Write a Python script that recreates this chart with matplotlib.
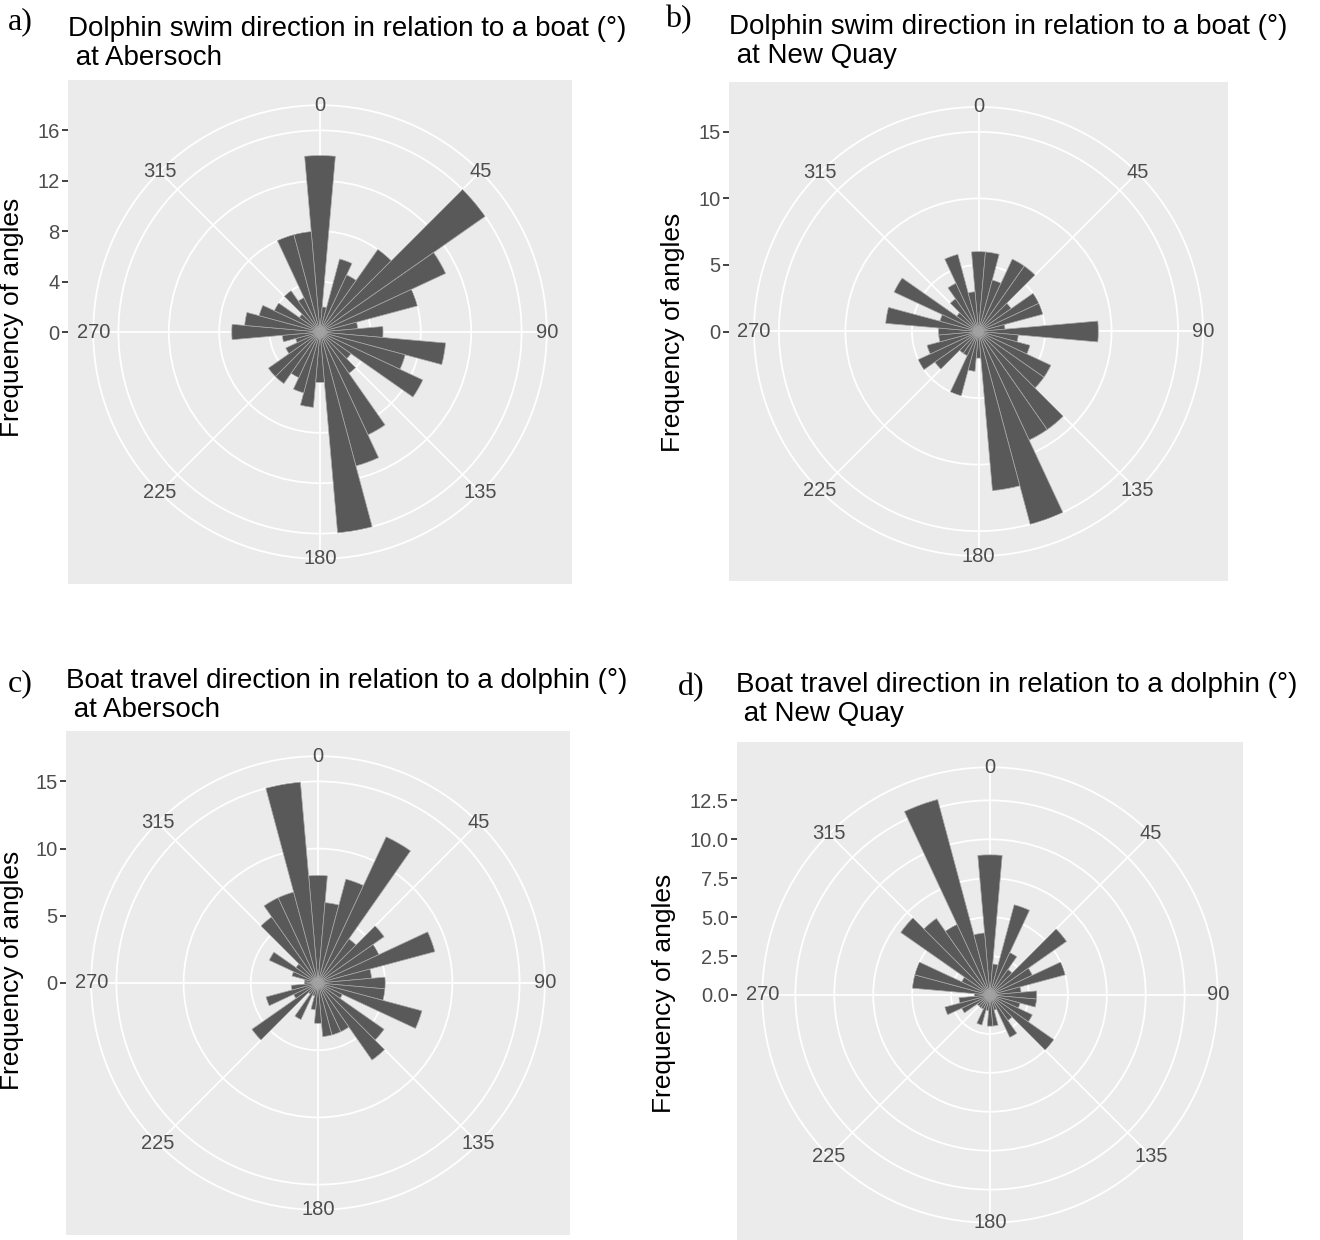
import numpy as np
import matplotlib.pyplot as plt

W, H = 1320, 1240
plt.rcParams['font.family'] = ['Liberation Sans', 'DejaVu Sans']

# bin centres (degrees), 10 degree bins
angles = np.arange(0, 360, 10)
theta_breaks = [0, 45, 90, 135, 180, 225, 270, 315]

dolphin_abersoch = [14, 2, 6, 5, 8, 16, 11, 8, 3, 5, 10, 7, 9, 3, 4, 9, 11, 16,
                    4, 6, 5, 4, 5, 5, 3, 2, 3, 7, 6, 5, 4, 2, 4, 3, 8, 8]
dolphin_newquay = [6, 6, 4, 6, 6, 3, 5, 5, 2, 9, 3, 4, 6, 6, 9, 9, 15, 12,
                   2, 3, 5, 2, 2, 4, 5, 4, 3, 3, 7, 3, 7, 2, 3, 4, 6, 3]
boat_abersoch = [8, 6, 8, 12, 4, 6, 5, 9, 4, 5, 5, 8, 2, 6, 7, 4, 4, 4,
                 3, 2, 1, 3, 1, 6, 2, 4, 2, 1, 1, 2, 4, 2, 6, 7, 7, 15]
boat_newquay = [9, 2, 6, 3, 2, 6, 3, 5, 2, 3, 3, 2, 3, 5, 2, 3, 1, 2,
                2, 1, 2, 1, 1, 1, 2, 3, 2, 1, 5, 5, 2, 7, 6, 5, 13, 4]

breaks_a = [0, 4, 8, 12, 16]
breaks_b = [0, 5, 10, 15]
breaks_c = [0, 5, 10, 15]
breaks_d = [0, 2.5, 5, 7.5, 10, 12.5]

title_dolphin = "Dolphin swim direction in relation to a boat (°)"
title_boat = "Boat travel direction in relation to a dolphin (°)"
sites = [" at Abersoch", " at New Quay", " at Abersoch", " at New Quay"]
tags = ["a)", "b)", "c)", "d)"]

fig = plt.figure(figsize=(W / 100, H / 100), dpi=100)


def fmt(v, step):
    return f"{v:.1f}" if step % 1 else f"{v:.0f}"


def rose(counts, breaks, left, top, size, ylab_x, ylab_y):
    cx, cy = left + size / 2, top + size / 2
    peak = max(counts)
    half = peak * 0.5 / 0.4

    bg = fig.add_axes([left / W, 1 - (top + size) / H, size / W, size / H])
    bg.set_facecolor('#EBEBEB')
    bg.set_xlim(-half, half)
    bg.set_ylim(-half, half)
    bg.set_xticks([])
    step = breaks[1] - breaks[0]
    bg.set_yticks(breaks)
    bg.set_yticklabels([fmt(b, step) for b in breaks])
    bg.tick_params(axis='y', length=4.5, width=1.3, color='#333333',
                   labelcolor='#4D4D4D', labelsize=14.5, pad=1.5)
    for s in bg.spines.values():
        s.set_visible(False)
    fig.text(ylab_x / W, 1 - ylab_y / H, "Frequency of angles", rotation=90,
             ha='center', va='center', fontsize=19)

    r = 0.45 * size
    ax = fig.add_axes([(cx - r) / W, 1 - (cy + r) / H, 2 * r / W, 2 * r / H],
                      projection='polar')
    ax.set_facecolor('none')
    ax.set_theta_zero_location('N')
    ax.set_theta_direction(-1)
    ax.bar(np.deg2rad(angles), counts, width=np.deg2rad(10), align='center',
           color='#595959', edgecolor='#a8a8a8', linewidth=0.5, zorder=3)
    rmax = peak * 0.45 / 0.4
    ax.set_ylim(0, rmax)
    ax.set_yticks(breaks)
    ax.set_yticklabels([])
    ax.set_xticks(np.deg2rad(theta_breaks))
    ax.set_xticklabels([])
    ax.tick_params(length=0)
    ax.set_axisbelow(True)
    ax.grid(True, color='white', linewidth=1.3)
    ax.spines['polar'].set_color('white')
    ax.spines['polar'].set_linewidth(1.3)
    for a in theta_breaks:
        ax.text(np.deg2rad(a), rmax, str(a), ha='center', va='center',
                fontsize=14.5, color='#4D4D4D', zorder=5)


def heading(tag, tag_x, tag_y, line1, line2, x, y):
    fig.text(tag_x / W, 1 - tag_y / H, tag, family='Liberation Serif',
             fontsize=23, ha='left', va='center')
    fig.text(x / W, 1 - (y + 9) / H, line1, fontsize=20, ha='left', va='baseline')
    fig.text(x / W, 1 - (y + 38) / H, line2, fontsize=20, ha='left', va='baseline')


rose(dolphin_abersoch, breaks_a, 68, 80, 504, 12, 317)
rose(dolphin_newquay, breaks_b, 729, 82, 499, 673, 332)
rose(boat_abersoch, breaks_c, 66, 731, 504, 12, 970)
rose(boat_newquay, breaks_d, 737, 742, 506, 664, 993)

heading(tags[0], 8, 22, title_dolphin, sites[0], 68, 27)
heading(tags[1], 665, 20, title_dolphin, sites[1], 729, 25)
heading(tags[2], 8, 684, title_boat, sites[2], 66, 679)
heading(tags[3], 678, 688, title_boat, sites[3], 736, 683)

fig.savefig('out.png', dpi=100)
